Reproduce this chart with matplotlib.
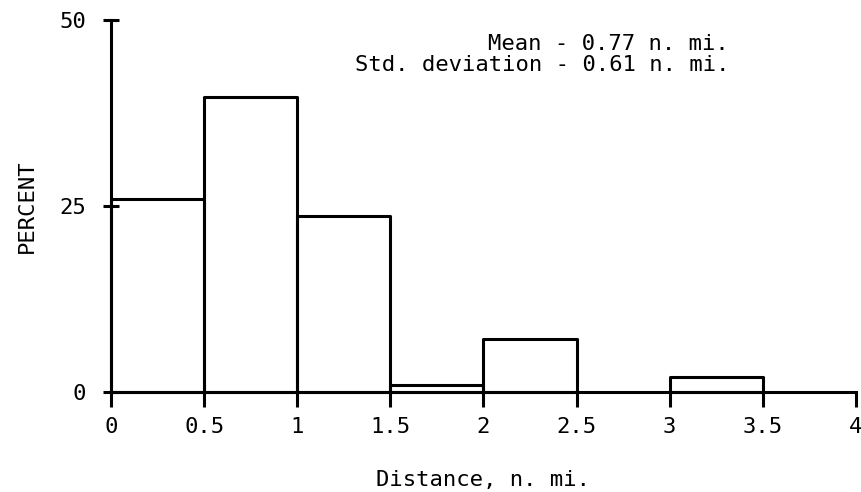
import numpy as np
import matplotlib.pyplot as plt

# histogram of distances, percent per 0.5 n. mi. bin
bin_left = [0.0, 0.5, 1.0, 1.5, 2.0, 2.5, 3.0, 3.5]
percent = [26.0, 39.7, 23.7, 1.0, 7.1, 0.0, 2.1, 0.0]
bin_width = 0.5

x_ticks = [0, 0.5, 1, 1.5, 2, 2.5, 3, 3.5, 4]
x_tick_labels = ["0", "0.5", "1", "1.5", "2", "2.5", "3", "3.5", "4"]
y_ticks = [0, 25, 50]

plt.rcParams['font.family'] = ['DejaVu Sans Mono']

fig = plt.figure(figsize=(8.61, 4.92), dpi=100)
ax = fig.add_axes([0.129, 0.203, 0.865, 0.756])

### only draw bars that have some height
for left, h in zip(bin_left, percent):
    if h > 0:
        ax.bar(left, h, width=bin_width, align='edge', fill=False,
               edgecolor='black', linewidth=2.2, joinstyle='round', clip_on=False)

ax.set_xlim(0, 4)
ax.set_ylim(0, 50)

for s in ['top', 'right']:
    ax.spines[s].set_visible(False)
for s in ['left', 'bottom']:
    ax.spines[s].set_linewidth(2.2)

ax.set_xticks(x_ticks)
ax.set_xticklabels(x_tick_labels)
ax.set_yticks(y_ticks)
ax.tick_params(axis='x', direction='out', length=11, width=2.2, pad=7, labelsize=16)
ax.tick_params(axis='y', direction='inout', length=12, width=2.2, pad=12, labelsize=16)

ax.set_xlabel("Distance, n. mi.", fontsize=16, labelpad=24)
ax.set_ylabel("PERCENT", fontsize=16, labelpad=16)

ax.text(3.32, 45.4, "Mean - 0.77 n. mi.\nStd. deviation - 0.61 n. mi.",
        ha='right', va='center', fontsize=16, linespacing=1.05)

fig.savefig("out.png", dpi=100)
